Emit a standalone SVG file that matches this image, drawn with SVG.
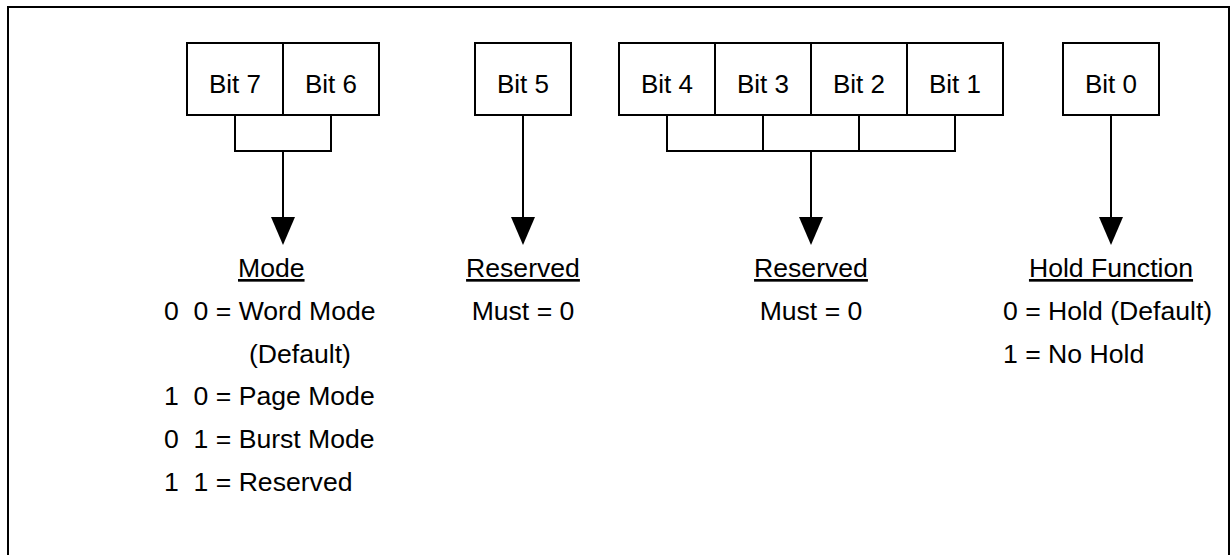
<svg xmlns="http://www.w3.org/2000/svg" width="1231" height="555" viewBox="0 0 1231 555">
<style>
text{font-family:"Liberation Sans",Arial,sans-serif;font-size:26px;fill:#000}
.l{font-size:26.6px;white-space:pre}
.c{text-anchor:middle}
.u{text-decoration:underline}
.box{fill:#fff;stroke:#000;stroke-width:2}
.ln{fill:none;stroke:#000;stroke-width:2}
.ah{fill:#000}
</style>
<rect width="1231" height="555" fill="#fff"/>
<path class="ln" d="M8,555 V7 H1229 V555"/>
<g id="bit7"><rect class="box" x="187" y="43" width="96" height="72"/><text class="c" x="235" y="93">Bit 7</text></g>
<g id="bit6"><rect class="box" x="283" y="43" width="96" height="72"/><text class="c" x="331" y="93">Bit 6</text></g>
<g id="bit5"><rect class="box" x="475" y="43" width="96" height="72"/><text class="c" x="523" y="93">Bit 5</text></g>
<g id="bit4"><rect class="box" x="619" y="43" width="96" height="72"/><text class="c" x="667" y="93">Bit 4</text></g>
<g id="bit3"><rect class="box" x="715" y="43" width="96" height="72"/><text class="c" x="763" y="93">Bit 3</text></g>
<g id="bit2"><rect class="box" x="811" y="43" width="96" height="72"/><text class="c" x="859" y="93">Bit 2</text></g>
<g id="bit1"><rect class="box" x="907" y="43" width="96" height="72"/><text class="c" x="955" y="93">Bit 1</text></g>
<g id="bit0"><rect class="box" x="1063" y="43" width="96" height="72"/><text class="c" x="1111" y="93">Bit 0</text></g>
<g id="connectors">
<path class="ln" d="M235,115 V151 H331 V115 M283,151 V218"/>
<polygon class="ah" points="271,217 295,217 283,245"/>
<path class="ln" d="M523,115 V218"/>
<polygon class="ah" points="511,217 535,217 523,245"/>
<path class="ln" d="M667,115 V151 H955 V115 M763,115 V151 M859,115 V151 M811,151 V218"/>
<polygon class="ah" points="799,217 823,217 811,245"/>
<path class="ln" d="M1111,115 V218"/>
<polygon class="ah" points="1099,217 1123,217 1111,245"/>
</g>
<g id="mode-label">
<text class="l u" x="238" y="277">Mode</text>
<text class="l" x="164" y="320" xml:space="preserve">0  0 = Word Mode</text>
<text class="l" x="249" y="363">(Default)</text>
<text class="l" x="164" y="405" xml:space="preserve">1  0 = Page Mode</text>
<text class="l" x="164" y="448" xml:space="preserve">0  1 = Burst Mode</text>
<text class="l" x="164" y="491" xml:space="preserve">1  1 = Reserved</text>
</g>
<g id="reserved5-label">
<text class="l c u" x="523" y="277">Reserved</text>
<text class="l c" x="523" y="320">Must = 0</text>
</g>
<g id="reserved41-label">
<text class="l c u" x="811" y="277">Reserved</text>
<text class="l c" x="811" y="320">Must = 0</text>
</g>
<g id="hold-label">
<text class="l c u" x="1111" y="277">Hold Function</text>
<text class="l" x="1003" y="320">0 = Hold (Default)</text>
<text class="l" x="1003" y="363">1 = No Hold</text>
</g>
</svg>
